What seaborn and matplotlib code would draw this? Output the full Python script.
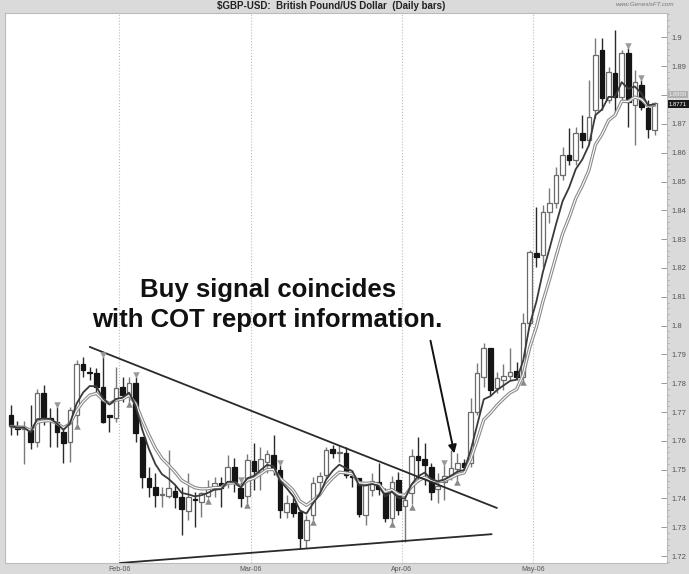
import pandas as pd
import matplotlib.pyplot as plt
import numpy as np
import seaborn as sns
from matplotlib.ticker import MultipleLocator

# --- Data: GBP/USD daily bars ---
dates = pd.bdate_range('2006-01-09', periods=99)

opens = [1.769, 1.7645, 1.764, 1.7638, 1.7597, 1.7766, 1.768, 1.7665, 1.763, 1.7596,
         1.769, 1.7867, 1.784, 1.7835, 1.7787, 1.7685, 1.768, 1.7787, 1.7756, 1.7802,
         1.7613, 1.7471, 1.744, 1.7412, 1.7408, 1.7426, 1.7405, 1.7357, 1.7398, 1.7388,
         1.7408, 1.7433, 1.7453, 1.7453, 1.7509, 1.7436, 1.741, 1.753, 1.7492, 1.7527,
         1.755, 1.7498, 1.7353, 1.7384, 1.7353, 1.7256, 1.7342, 1.7457, 1.748, 1.7572,
         1.7557, 1.7557, 1.7478, 1.747, 1.7342, 1.743, 1.7457, 1.7422, 1.7332, 1.7464,
         1.7374, 1.742, 1.7547, 1.7537, 1.751, 1.7433, 1.7457, 1.7481, 1.7502, 1.7523,
         1.7523, 1.770, 1.7822, 1.7922, 1.7783, 1.781, 1.7825, 1.7842, 1.7822, 1.8009,
         1.8252, 1.8245, 1.8394, 1.8426, 1.8523, 1.8592, 1.8575, 1.8669, 1.8644, 1.875,
         1.8957, 1.8783, 1.8877, 1.8794, 1.8947, 1.8766, 1.8835, 1.8756, 1.8679]
highs = [1.7724, 1.767, 1.767, 1.7724, 1.778, 1.7794, 1.7714, 1.7717, 1.7648, 1.7717,
         1.788, 1.789, 1.7857, 1.7853, 1.789, 1.769, 1.7857, 1.782, 1.782, 1.7822,
         1.7613, 1.751, 1.7488, 1.744, 1.7568, 1.7446, 1.744, 1.7488, 1.7422, 1.7422,
         1.7464, 1.7474, 1.7474, 1.755, 1.754, 1.7457, 1.7555, 1.7592, 1.7578, 1.7568,
         1.762, 1.7516, 1.7412, 1.740, 1.736, 1.7342, 1.7474, 1.7492, 1.7578, 1.7585,
         1.7585, 1.7578, 1.748, 1.7472, 1.7446, 1.749, 1.7523, 1.7436, 1.7478, 1.7492,
         1.742, 1.757, 1.7613, 1.7592, 1.7523, 1.7488, 1.7516, 1.7568, 1.7557, 1.7537,
         1.7749, 1.787, 1.794, 1.7922, 1.7839, 1.7867, 1.7922, 1.7874, 1.8044, 1.8263,
         1.8412, 1.8419, 1.8478, 1.8551, 1.862, 1.8686, 1.869, 1.8731, 1.8853, 1.8999,
         1.8999, 1.8898, 1.9026, 1.8957, 1.8964, 1.8887, 1.8853, 1.8783, 1.8776]
lows = [1.762, 1.762, 1.752, 1.757, 1.758, 1.7655, 1.7578, 1.758, 1.7523, 1.7527,
        1.766, 1.782, 1.781, 1.7766, 1.7662, 1.763, 1.7665, 1.7735, 1.7735, 1.7597,
        1.7436, 1.7405, 1.737, 1.737, 1.740, 1.7367, 1.7273, 1.7325, 1.730, 1.7335,
        1.740, 1.7405, 1.737, 1.7436, 1.7422, 1.737, 1.7385, 1.743, 1.743, 1.749,
        1.748, 1.7332, 1.7332, 1.7335, 1.7228, 1.7228, 1.7325, 1.7422, 1.7467, 1.754,
        1.7527, 1.747, 1.744, 1.7335, 1.7308, 1.741, 1.7412, 1.7318, 1.7318, 1.7342,
        1.7249, 1.738, 1.7457, 1.7446, 1.7395, 1.7384, 1.7395, 1.7464, 1.7464, 1.7495,
        1.7509, 1.769, 1.7787, 1.7759, 1.7766, 1.7776, 1.781, 1.7811, 1.7811, 1.800,
        1.8203, 1.8203, 1.8356, 1.8408, 1.8506, 1.8558, 1.8558, 1.8617, 1.863, 1.872,
        1.8749, 1.8773, 1.8738, 1.8783, 1.869, 1.8627, 1.8749, 1.8651, 1.8662]
closes = [1.765, 1.764, 1.7645, 1.7597, 1.7766, 1.7683, 1.7673, 1.763, 1.7592, 1.7707,
          1.7865, 1.7846, 1.7835, 1.7787, 1.7665, 1.7683, 1.7783, 1.776, 1.7802, 1.7628,
          1.7474, 1.744, 1.7412, 1.7415, 1.7436, 1.7405, 1.7363, 1.7405, 1.7393, 1.7419,
          1.7436, 1.7453, 1.7436, 1.7509, 1.7457, 1.7401, 1.7533, 1.7495, 1.7537, 1.7554,
          1.7502, 1.736, 1.7384, 1.735, 1.7262, 1.7325, 1.7453, 1.7478, 1.7568, 1.7557,
          1.756, 1.7481, 1.7474, 1.7346, 1.7445, 1.746, 1.7433, 1.7332, 1.7457, 1.736,
          1.7394, 1.7547, 1.7533, 1.7516, 1.7422, 1.7443, 1.7478, 1.7505, 1.7523, 1.7509,
          1.770, 1.7835, 1.7922, 1.7776, 1.7818, 1.7825, 1.7839, 1.7822, 1.8009, 1.8256,
          1.8238, 1.8394, 1.8426, 1.8523, 1.8592, 1.8575, 1.8669, 1.8644, 1.8724, 1.894,
          1.879, 1.8881, 1.8794, 1.8947, 1.8776, 1.8846, 1.8759, 1.8683, 1.8771]

# bars flagged with signal triangles
sell_marks = [7, 14, 19, 35, 41, 66, 94, 96]
buy_marks = [10, 18, 30, 36, 46, 58, 61, 68, 78]

price_ticks = [1.72, 1.73, 1.74, 1.75, 1.76, 1.77, 1.78, 1.79, 1.8, 1.81,
               1.82, 1.83, 1.84, 1.85, 1.86, 1.87, 1.88, 1.89, 1.9]
# the 1.88 label sits under the grey price box
price_labels = ['1.72', '1.73', '1.74', '1.75', '1.76', '1.77', '1.78', '1.79', '1.8', '1.81',
                '1.82', '1.83', '1.84', '1.85', '1.86', '1.87', '', '1.89', '1.9']
last_price = 1.8771
marker_price = 1.88

# trendlines drawn on the chart (bar index, price)
upper_line = ([12, 74], [1.7926, 1.7367])
lower_line = ([16.6, 73.2], [1.7176, 1.7276])

annotation = ['Buy signal coincides', 'with COT report information.']

# --- Prepare ---
df = pd.DataFrame({'date': dates, 'open': opens, 'high': highs, 'low': lows, 'close': closes})
df['i'] = np.arange(len(df))
df['fast'] = df['close'].ewm(span=5, adjust=False).mean()
df['slow'] = df['close'].ewm(span=8, adjust=False).mean()

month_starts = df.groupby(df['date'].dt.to_period('M'))['i'].min()
month_starts = month_starts[month_starts > 0]
month_pos = (month_starts.values - 0.5).tolist()
month_labels = [d.strftime('%b-%y') for d in df.loc[month_starts.values, 'date']]

# --- Plot ---
sns.set_theme(style='white')
plt.rcParams['font.family'] = ['Liberation Sans', 'DejaVu Sans']

fig = plt.figure(figsize=(6.89, 5.74), dpi=100, facecolor='#dadada')
ax = fig.add_axes([5 / 689, 11 / 574, 662 / 689, 550 / 574])
ax.set_facecolor('white')

# candles
w = 0.7
for _, r in df.iterrows():
    up = r['close'] >= r['open']
    wick_col = '#7a7a7a' if up else '#2a2a2a'
    ax.vlines(r['i'], r['low'], r['high'], color=wick_col, lw=1.0, zorder=2)
    bottom = min(r['open'], r['close'])
    height = max(abs(r['close'] - r['open']), 0.0005)
    ax.bar(r['i'], height, bottom=bottom, width=w,
           color='white' if up else '#151515',
           edgecolor='#6a6a6a' if up else '#151515', lw=0.9, zorder=3)

# moving averages
sns.lineplot(data=df, x='i', y='slow', ax=ax, color='#8a8a8a', lw=2.4, zorder=4)
sns.lineplot(data=df, x='i', y='slow', ax=ax, color='white', lw=0.8, zorder=4)
sns.lineplot(data=df, x='i', y='fast', ax=ax, color='#3a3a3a', lw=1.3, zorder=5)

# signal triangles
sm = df.loc[sell_marks]
bm = df.loc[buy_marks]
ax.scatter(sm['i'], sm['high'] + 0.0008, marker='v', s=22, color='#9a9a9a', zorder=6, linewidths=0)
ax.scatter(bm['i'], bm['low'] - 0.0008, marker='^', s=22, color='#8a8a8a', zorder=6, linewidths=0)

# trendlines
ax.plot(upper_line[0], upper_line[1], color='#2a2a2a', lw=1.3, zorder=5)
ax.plot(lower_line[0], lower_line[1], color='#2a2a2a', lw=1.3, zorder=5)

# annotation text and arrow
ax.text(39.1, 1.8124, annotation[0], ha='center', va='center', fontsize=18.5,
        fontweight='bold', color='#111111', zorder=7)
ax.text(39.1, 1.8018, annotation[1], ha='center', va='center', fontsize=18.5,
        fontweight='bold', color='#111111', zorder=7)
ax.annotate('', xy=(67.6, 1.7547), xytext=(63.8, 1.7957),
            arrowprops=dict(arrowstyle='-|>', color='#111111', lw=1.4, mutation_scale=12), zorder=7)

# axes
ax.set_xlim(-0.9, 99.9)
ax.set_ylim(1.7176, 1.9085)
ax.set_xlabel('')
ax.set_ylabel('')
ax.yaxis.tick_right()
ax.set_yticks(price_ticks, price_labels)
ax.yaxis.set_minor_locator(MultipleLocator(0.002))
ax.tick_params(axis='y', which='major', direction='in', length=4, width=0.6,
               colors='#888888', labelsize=5.5, pad=3, labelcolor='#555555', right=True)
ax.tick_params(axis='y', which='minor', direction='out', length=1.5, width=0.5,
               colors='#999999', right=True)
ax.set_xticks(month_pos, month_labels)
ax.tick_params(axis='x', length=0, labelsize=5, pad=2, labelcolor='#555555')
ax.grid(axis='x', ls=':', color='#bbbbbb', lw=0.8)
ax.grid(axis='y', visible=False)
for s in ax.spines.values():
    s.set_color('#bbbbbb')
    s.set_linewidth(0.8)

# price boxes on the right scale
ax.text(1.003, marker_price + 0.0002, f'{marker_price:.4f}', transform=ax.get_yaxis_transform(),
        fontsize=4.2, color='#f2f2f2', va='center', ha='left', zorder=8, clip_on=False,
        bbox=dict(boxstyle='square,pad=0.25', fc='#b0b0b0', ec='none'))
ax.text(1.003, last_price - 0.0003, f'{last_price:.4f}', transform=ax.get_yaxis_transform(),
        fontsize=4.2, color='white', va='center', ha='left', zorder=8, clip_on=False,
        bbox=dict(boxstyle='square,pad=0.25', fc='#1a1a1a', ec='none'))

# header
fig.text(331 / 689, 1 - 6 / 574, r'\$GBP-USD:  British Pound/US Dollar  (Daily bars)',
         ha='center', va='center', fontsize=7, fontweight='bold', color='#222222')
fig.text(645 / 689, 1 - 5 / 574, 'www.GenesisFT.com', ha='center', va='center',
         fontsize=4.5, style='italic', color='#777777')

plt.savefig('out.png', dpi=100, facecolor=fig.get_facecolor())
plt.close()
